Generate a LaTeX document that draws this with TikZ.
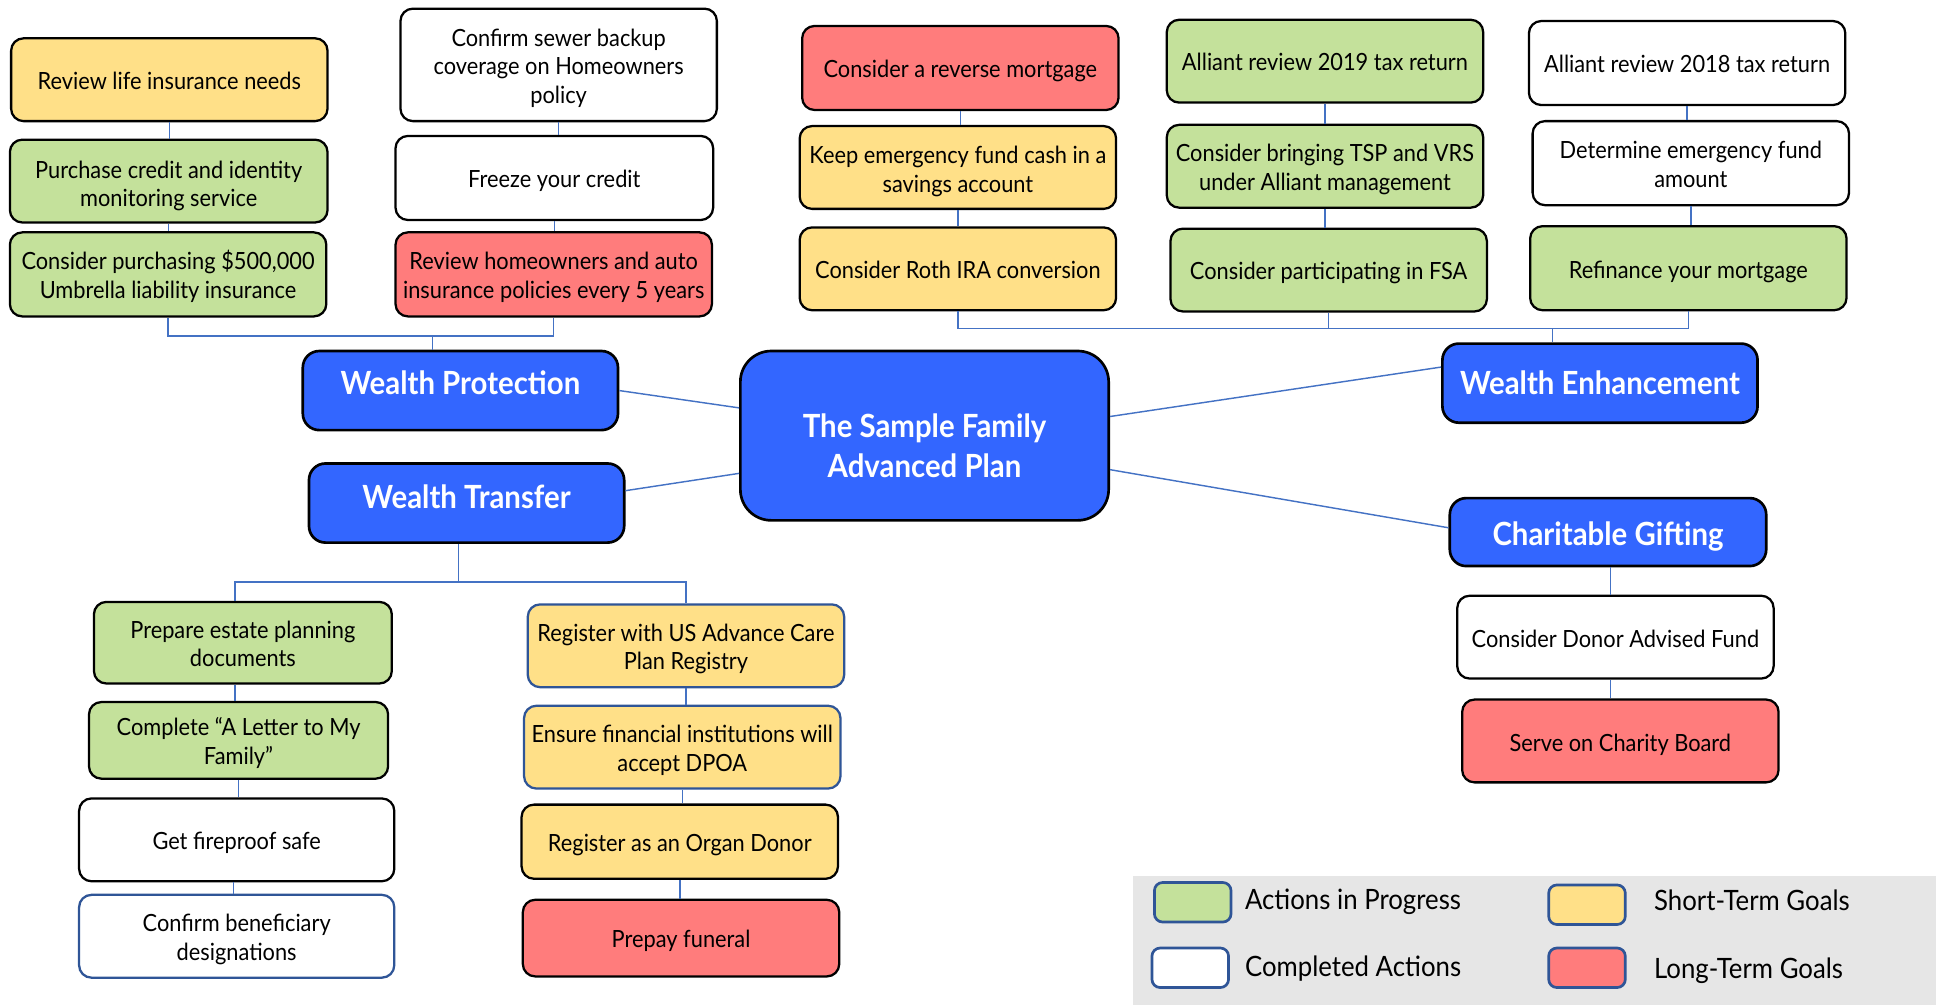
\documentclass[tikz,border=0pt]{standalone}
\usepackage{fontspec}
\setmainfont{Lato}[FakeStretch=0.92]
\usetikzlibrary{calc}
\definecolor{cgreen}{RGB}{196,225,155}
\definecolor{cyellow}{RGB}{255,224,136}
\definecolor{cred}{RGB}{255,124,124}
\definecolor{cblue}{RGB}{51,102,255}
\definecolor{cline}{RGB}{68,114,196}
\definecolor{cbord}{RGB}{47,85,151}
\definecolor{cgray}{RGB}{230,230,230}
\tikzset{
  box/.style={draw=black, line width=1.1pt, rounded corners=6pt, inner sep=0pt, align=center,
    font=\fontsize{11.5}{13.8}\selectfont},
  gn/.style={box, fill=cgreen},
  yl/.style={box, fill=cyellow},
  rd/.style={box, fill=cred},
  wh/.style={box, fill=white},
  bb/.style={draw=cbord},
  title/.style={box, fill=cblue, text=white, line width=1.3pt, rounded corners=8pt,
    font=\bfseries\fontsize{15.5}{19.5}\selectfont},
  conn/.style={draw=cline, line width=0.7pt},
  leg/.style={draw=cbord, line width=1.3pt, rounded corners=4pt, minimum width=37.2pt, minimum height=19.2pt, inner sep=0pt},
  legtext/.style={anchor=west, inner sep=0pt, font=\fontsize{13.6}{16}\selectfont}
}
\newcommand\bx[8][-2pt]{\node[#7, minimum width={(#5-#3)*0.6pt}, minimum height={(#6-#4)*0.6pt}] (#2) at ({(#3+#5)/2},{(#4+#6)/2}) {\raisebox{#1}[\height][\depth]{\begin{tabular}{@{}c@{}}#8\end{tabular}}};}
\begin{document}
\begin{tikzpicture}[x=0.6pt, y=-0.6pt]
\useasboundingbox (0,0) rectangle (1568,813);
% legend background
\node[fill=cgray, inner sep=0pt, minimum width={649*0.6pt}, minimum height={104*0.6pt}] (legend) at (1241.5,761) {};

% ---- Wealth Protection
\bx{life}{9}{31}{265}{98}{yl}{Review life insurance needs}
\bx[-2.8pt]{credit}{8}{113}{265}{180}{gn}{Purchase credit and identity\\monitoring service}
\bx{umb}{8}{188}{264}{256}{gn}{Consider purchasing \$500,000\\Umbrella liability insurance}
\bx{sewer}{324}{7}{580}{98}{wh}{Confirm sewer backup\\coverage on Homeowners\\policy}
\bx{freeze}{320}{110}{577}{178}{wh}{Freeze your credit}
\bx{revho}{320}{188}{576}{256}{rd}{Review homeowners and auto\\insurance policies every 5 years}

% ---- Wealth Enhancement
\bx{reverse}{649}{21}{905}{89}{rd}{Consider a reverse mortgage}
\bx[-2.4pt]{emcash}{647}{102}{903}{169}{yl}{Keep emergency fund cash in a\\savings account}
\bx{roth}{647}{184}{903}{251}{yl}{Consider Roth IRA conversion}
\bx{tax19}{944}{16}{1200}{83}{gn}{Alliant review 2019 tax return}
\bx{tsp}{944}{101}{1200}{168}{gn}{Consider bringing TSP and VRS\\under Alliant management}
\bx{fsa}{947}{185}{1203}{252}{gn}{Consider participating in FSA}
\bx{tax18}{1237}{17}{1493}{85}{wh}{Alliant review 2018 tax return}
\bx{emamt}{1240}{98}{1496}{166}{wh}{Determine emergency fund\\amount}
\bx{refi}{1238}{183}{1494}{251}{gn}{Refinance your mortgage}

% ---- Wealth Transfer
\bx{estate}{76}{487}{317}{553}{gn}{Prepare estate planning\\documents}
\bx{letter}{72}{568}{314}{630}{gn}{Complete “A Letter to My\\Family”}
\bx{safe}{64}{646}{319}{713}{wh}{Get fireproof safe}
\bx{benef}{64}{724}{319}{791}{wh,bb}{Confirm beneficiary\\designations}
\bx{acp}{427}{489}{683}{556}{yl,bb}{Register with US Advance Care\\Plan Registry}
\bx{dpoa}{424}{571}{680}{638}{yl,bb}{Ensure financial institutions will\\accept DPOA}
\bx{organ}{422}{651}{678}{711}{yl}{Register as an Organ Donor}
\bx{funeral}{423}{728}{679}{790}{rd}{Prepay funeral}

% ---- Charitable
\bx[-2.4pt]{daf}{1179}{482}{1435}{549}{wh}{Consider Donor Advised Fund}
\bx[-2.4pt]{board}{1183}{566}{1439}{633}{rd}{Serve on Charity Board}

% ---- category nodes
\bx[-6.6pt]{ctr}{599}{284}{897}{421}{title,rounded corners=15pt}{The Sample Family\\Advanced Plan}
\bx[1.8pt]{wp}{245}{284}{500}{348}{title}{Wealth Protection}
\bx[1.2pt]{wt}{250}{375}{505}{439}{title}{Wealth Transfer}
\bx[-1.8pt]{we}{1167}{278}{1422}{342}{title}{Wealth Enhancement}
\bx[-2.4pt]{cg}{1173}{403}{1429}{458}{title}{Charitable Gifting}

% ---- connectors: centre to categories
\draw[conn] (wp.east) -- ([yshift=13.5pt]ctr.west);
\draw[conn] ([yshift=6pt]wt.east) -- ([yshift=-18.3pt]ctr.west);
\draw[conn] ([yshift=9.3pt]ctr.east) -- ([yshift=7.8pt]we.west);
\draw[conn] ([yshift=-16.5pt]ctr.east) -- ([yshift=2.1pt]cg.west);

% ---- Wealth Protection tree
\coordinate (wpbar) at (0,272);
\draw[conn] (life.south) -- (life.south |- credit.north);
\draw[conn] (credit.south) -- (credit.south |- umb.north);
\draw[conn] (sewer.south) -- (sewer.south |- freeze.north);
\draw[conn] (freeze.south) -- (freeze.south |- revho.north);
\draw[conn] (umb.south) -- (umb.south |- wpbar) -- (revho.south |- wpbar) -- (revho.south);
\draw[conn] ([xshift=-13.5pt]wp.north) -- ([xshift=-13.5pt]wp.north |- wpbar);

% ---- Wealth Enhancement tree
\coordinate (webar) at (0,266);
\draw[conn] (reverse.south) -- (reverse.south |- emcash.north);
\draw[conn] (emcash.south) -- (emcash.south |- roth.north);
\draw[conn] (tax19.south) -- (tax19.south |- tsp.north);
\draw[conn] (tsp.south) -- (tsp.south |- fsa.north);
\draw[conn] (tax18.south) -- (tax18.south |- emamt.north);
\draw[conn] (emamt.south) -- (emamt.south |- refi.north);
\draw[conn] (roth.south) -- (roth.south |- webar) -- (refi.south |- webar) -- (refi.south);
\draw[conn] (fsa.south) -- (fsa.south |- webar);
\draw[conn] ([xshift=-23.1pt]we.north) -- ([xshift=-23.1pt]we.north |- webar);

% ---- Wealth Transfer tree
\coordinate (wtbar) at (0,471);
\draw[conn] ([xshift=-3.9pt]wt.south) -- ([xshift=-3.9pt]wt.south |- wtbar);
\draw[conn] ([xshift=-3.9pt]estate.north) -- ([xshift=-3.9pt]estate.north |- wtbar) -- (acp.north |- wtbar) -- (acp.north);
\draw[conn] ([xshift=-3.9pt]estate.south) -- ([xshift=-3.9pt]estate.south |- letter.north);
\draw[conn] (letter.south) -- (letter.south |- safe.north);
\draw[conn] ([xshift=-1.5pt]safe.south) -- ([xshift=-1.5pt]safe.south |- benef.north);
\draw[conn] (acp.south) -- (acp.south |- dpoa.north);
\draw[conn] (dpoa.south) -- (dpoa.south |- organ.north);
\draw[conn] (organ.south) -- (organ.south |- funeral.north);

% ---- Charitable tree
\draw[conn] ([xshift=1.2pt]cg.south) -- ([xshift=1.2pt]cg.south |- daf.north);
\draw[conn] ([xshift=-2.4pt]daf.south) -- ([xshift=-2.4pt]daf.south |- board.north);

% ---- legend
\node[leg, fill=cgreen] (lg1) at (965,730) {};
\node[leg, fill=white] (lg2) at (963,783) {};
\node[leg, fill=cyellow] (lg3) at (1284,732) {};
\node[leg, fill=cred] (lg4) at (1284,783) {};
\node[legtext] (lt1) at (1007,730) {Actions in Progress};
\node[legtext] (lt2) at (1007,784) {Completed Actions};
\node[legtext] (lt3) at (1338,728) {Short-Term Goals};
\node[legtext] (lt4) at (1338,785) {Long-Term Goals};
\end{tikzpicture}
\end{document}
